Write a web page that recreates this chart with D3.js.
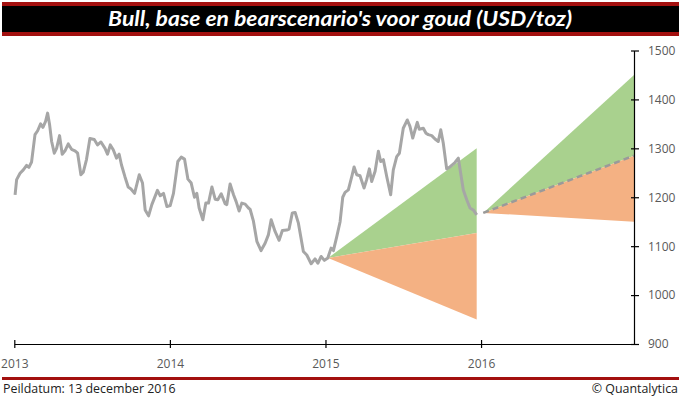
<!DOCTYPE html>
<html>
<head>
<meta charset="utf-8">
<script src="https://cdn.jsdelivr.net/npm/d3@7"></script>
<style>
  html, body { margin: 0; padding: 0; background: #fff; }
  svg { display: block; }
</style>
</head>
<body>
<svg id="chart" width="681" height="399"></svg>
<script>
// ---- data ----
const titleText = "Bull, base en bearscenario's voor goud (USD/toz)";
const footLeft = "Peildatum: 13 december 2016";
const footRight = "© Quantalytica";

const xTicks = [2013, 2014, 2015, 2016];
const yTicks = [900, 1000, 1100, 1200, 1300, 1400, 1500];

const goldT = [
  2013.005, 2013.015, 2013.037, 2013.058, 2013.079, 2013.094, 2013.111, 2013.133, 2013.150, 2013.169,
  2013.184, 2013.201, 2013.214, 2013.227, 2013.240, 2013.257, 2013.272, 2013.291, 2013.308, 2013.326,
  2013.347, 2013.368, 2013.390, 2013.407, 2013.428, 2013.443, 2013.464, 2013.486, 2013.514, 2013.535,
  2013.557, 2013.583, 2013.599, 2013.617, 2013.636, 2013.657, 2013.674, 2013.689, 2013.711, 2013.732,
  2013.750, 2013.773, 2013.803, 2013.824, 2013.841, 2013.863, 2013.884, 2013.920, 2013.938, 2013.959,
  2013.981, 2014.002, 2014.023, 2014.051, 2014.073, 2014.094, 2014.116, 2014.137, 2014.158, 2014.173,
  2014.188, 2014.212, 2014.231, 2014.248, 2014.270, 2014.291, 2014.308, 2014.330, 2014.355, 2014.366,
  2014.387, 2014.409, 2014.426, 2014.445, 2014.462, 2014.484, 2014.505, 2014.516, 2014.537, 2014.559,
  2014.586, 2014.612, 2014.633, 2014.651, 2014.676, 2014.702, 2014.723, 2014.751, 2014.766, 2014.787,
  2014.805, 2014.826, 2014.858, 2014.880, 2014.908, 2014.933, 2014.951, 2014.972, 2014.993, 2015.015,
  2015.036, 2015.051, 2015.073, 2015.094, 2015.111, 2015.126, 2015.147, 2015.169, 2015.184, 2015.201,
  2015.222, 2015.248, 2015.265, 2015.282, 2015.297, 2015.319, 2015.340, 2015.355, 2015.372, 2015.394,
  2015.419, 2015.436, 2015.458, 2015.475, 2015.500, 2015.526, 2015.543, 2015.561, 2015.576, 2015.590,
  2015.603, 2015.629, 2015.646, 2015.661, 2015.683, 2015.704, 2015.725, 2015.741, 2015.757, 2015.779,
  2015.800, 2015.832, 2015.854, 2015.869, 2015.886, 2015.908, 2015.929, 2015.950, 2015.972
];
const goldV = [
  1205, 1236, 1249, 1256, 1265, 1261, 1272, 1328, 1336, 1350,
  1343, 1355, 1372, 1348, 1314, 1290, 1300, 1326, 1288, 1295,
  1309, 1298, 1295, 1290, 1246, 1251, 1277, 1320, 1318, 1307,
  1313, 1300, 1288, 1307, 1297, 1280, 1288, 1266, 1242, 1221,
  1217, 1208, 1246, 1229, 1174, 1162, 1185, 1214, 1203, 1208,
  1181, 1183, 1208, 1273, 1282, 1278, 1237, 1229, 1200, 1208,
  1178, 1154, 1188, 1188, 1221, 1196, 1195, 1207, 1187, 1185,
  1227, 1205, 1191, 1172, 1188, 1186, 1178, 1175, 1151, 1110,
  1091, 1106, 1123, 1154, 1130, 1112, 1132, 1133, 1135, 1168,
  1169, 1147, 1089, 1082, 1064, 1074, 1065, 1079, 1071, 1076,
  1096, 1091, 1120, 1150, 1200, 1210, 1215, 1242, 1262, 1246,
  1244, 1219, 1236, 1258, 1232, 1253, 1294, 1273, 1277, 1242,
  1205, 1256, 1283, 1290, 1341, 1358, 1345, 1321, 1338, 1353,
  1339, 1341, 1331, 1328, 1326, 1319, 1314, 1338, 1311, 1258,
  1262, 1271, 1280, 1249, 1215, 1195, 1178, 1174, 1164
];

// scenario fans: [first fan, second fan]
const fanStart  = [2015.017, 2016.014];
const fanEnd    = [2015.972, 2016.983];
const fanOrigin = [1076, 1168];
const bullEnd   = [1300, 1450];
const baseEnd   = [1127, 1285];
const bearEnd   = [950, 1150];
const showBaseLine = [false, true];

// ---- drawing ----
const svg = d3.select("#chart");
const W = 681, H = 399;

const x = d3.scaleLinear().domain([2013, 2016.983]).range([14.3, 634]);
const y = d3.scaleLinear().domain([900, 1500]).range([344, 50.5]);

const red = "#a3100f";

// title bar
svg.append("rect").attr("x", 2).attr("y", 2).attr("width", W - 4).attr("height", 34).attr("fill", red);
svg.append("rect").attr("x", 2).attr("y", 6).attr("width", W - 4).attr("height", 26).attr("fill", "#000");
svg.append("text")
  .attr("x", 340).attr("y", 26)
  .attr("text-anchor", "middle")
  .attr("fill", "#fff")
  .attr("font-family", "Lato, 'Open Sans', sans-serif")
  .attr("font-weight", "bold").attr("font-style", "italic")
  .attr("font-size", 20)
  .attr("textLength", 464).attr("lengthAdjust", "spacingAndGlyphs")
  .text(titleText);

// footer
svg.append("rect").attr("x", 2).attr("y", 377).attr("width", W - 4).attr("height", 3).attr("fill", red);
svg.append("text").attr("x", 3).attr("y", 393)
  .attr("font-family", "'Open Sans', sans-serif").attr("font-size", 12.4).attr("fill", "#222")
  .text(footLeft);
svg.append("text").attr("x", 678).attr("y", 393).attr("text-anchor", "end")
  .attr("font-family", "'Open Sans', sans-serif").attr("font-size", 12.4).attr("fill", "#222")
  .text(footRight);

// fans
const area = d3.area().x(d => x(d.t)).y0(d => y(d.lo)).y1(d => y(d.hi));
const lineGen = d3.line().x(d => x(d.t)).y(d => y(d.v));

fanStart.forEach((s, i) => {
  const green = [{t: s, lo: fanOrigin[i], hi: fanOrigin[i]}, {t: fanEnd[i], lo: baseEnd[i], hi: bullEnd[i]}];
  const orange = [{t: s, lo: fanOrigin[i], hi: fanOrigin[i]}, {t: fanEnd[i], lo: bearEnd[i], hi: baseEnd[i]}];
  svg.append("path").attr("d", area(green)).attr("fill", "#a9d18e");
  svg.append("path").attr("d", area(orange)).attr("fill", "#f4b183");
  if (showBaseLine[i]) {
    svg.append("path")
      .attr("d", lineGen([{t: s, v: fanOrigin[i]}, {t: fanEnd[i], v: baseEnd[i]}]))
      .attr("fill", "none").attr("stroke", "#9a9a9a").attr("stroke-width", 2.5)
      .attr("stroke-dasharray", "6,4");
  }
});

// gold price line
const gold = goldT.map((t, i) => ({t, v: goldV[i]}));
svg.append("path").attr("d", lineGen(gold))
  .attr("fill", "none").attr("stroke", "#a6a6a6").attr("stroke-width", 3)
  .attr("stroke-linejoin", "round");

// axes
const xAxis = svg.append("g").attr("transform", "translate(0,344)")
  .call(d3.axisBottom(x).tickValues(xTicks).tickFormat(d3.format("d")).tickSize(4).tickSizeOuter(0));
xAxis.select(".domain").attr("stroke", "#000").attr("stroke-width", 1.2);
xAxis.selectAll(".tick line").attr("y1", -4).attr("y2", 4).attr("stroke", "#000").attr("stroke-width", 1.2);
xAxis.selectAll(".tick text").attr("y", 24).attr("dy", 0)
  .attr("font-family", "'Open Sans', sans-serif").attr("font-size", 12).attr("fill", "#595959");

const yAxis = svg.append("g").attr("transform", "translate(634,0)")
  .call(d3.axisRight(y).tickValues(yTicks).tickFormat(d3.format("d")).tickSize(5).tickSizeOuter(0));
yAxis.select(".domain").attr("stroke", "#000").attr("stroke-width", 1.2);
yAxis.selectAll(".tick line").attr("x1", -3).attr("x2", 5).attr("stroke", "#000").attr("stroke-width", 1.2);
yAxis.selectAll(".tick text").attr("x", 14)
  .attr("font-family", "'Open Sans', sans-serif").attr("font-size", 12).attr("fill", "#595959");
</script>
</body>
</html>
